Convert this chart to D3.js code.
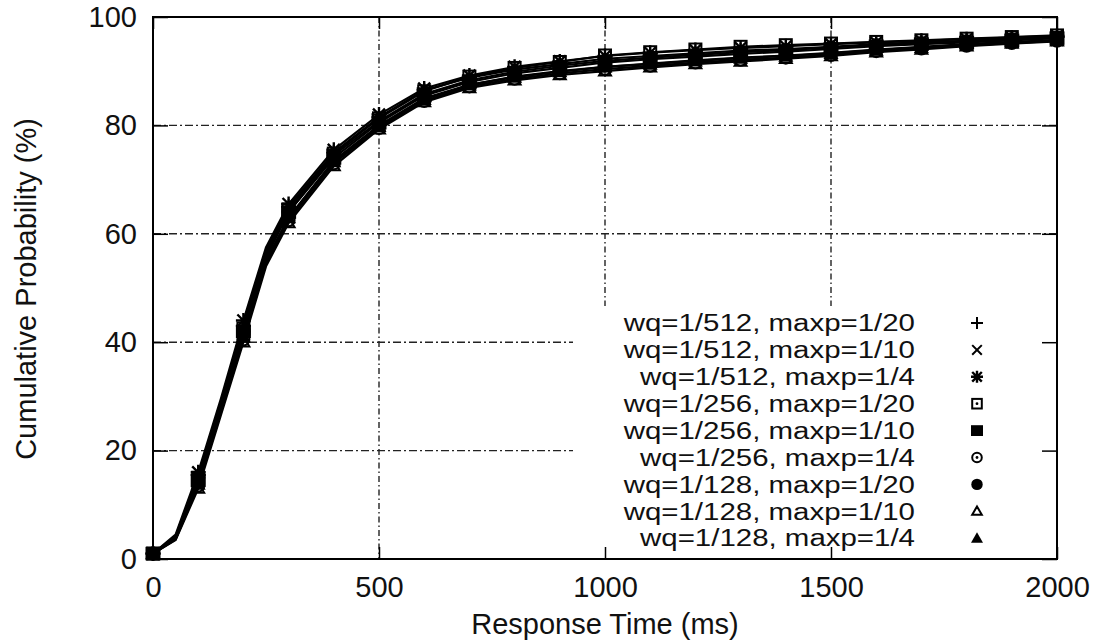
<!DOCTYPE html>
<html>
<head>
<meta charset="UTF-8">
<title>Cumulative Probability vs Response Time</title>
<script src="https://cdnjs.cloudflare.com/ajax/libs/d3/7.8.5/d3.min.js"></script>
<style>
  body { margin: 0; background: #fff; }
  svg text { font-family: "Liberation Sans", Arial, sans-serif; fill: #111; }
</style>
</head>
<body>
<div id="chart"></div>
<script>
// data
const times = [0, 50, 100, 150, 200, 250, 300, 400, 500, 600, 700, 800, 900, 1000, 1100, 1200, 1300, 1400, 1500, 1600, 1700, 1800, 1900, 2000];
const labels = [
  "wq=1/512, maxp=1/20", "wq=1/512, maxp=1/10", "wq=1/512, maxp=1/4",
  "wq=1/256, maxp=1/20", "wq=1/256, maxp=1/10", "wq=1/256, maxp=1/4",
  "wq=1/128, maxp=1/20", "wq=1/128, maxp=1/10", "wq=1/128, maxp=1/4"
];
const s512_20 = [1, 4.2, 15.5, 29, 43, 57, 65, 75, 81.5, 86.5, 88.8, 90.3, 91.3, 92.3, 92.8, 93.3, 93.8, 94.1, 94.5, 95, 95.3, 95.6, 96, 96.3];
const s512_10 = [1, 3.8, 14, 27.5, 41, 55, 63, 73.5, 80, 85, 87.5, 89, 90, 90.8, 91.4, 92, 92.5, 92.9, 93.4, 94, 94.5, 95, 95.4, 95.8];
const s512_4  = [1, 4.5, 16, 29.5, 44, 57.5, 65.5, 75.5, 82, 86.8, 89.2, 90.8, 91.8, 92.8, 93.4, 93.9, 94.3, 94.6, 95, 95.3, 95.6, 95.9, 96.2, 96.5];
const s256_20 = [1, 4, 15, 28.5, 42.5, 56.5, 64.5, 74.8, 81.3, 86.3, 89, 90.6, 91.7, 92.9, 93.5, 94, 94.5, 94.8, 95.1, 95.4, 95.7, 96, 96.3, 96.6];
const s256_10 = [1, 4, 14.5, 28, 42, 55.5, 64, 74, 80.5, 85.5, 88, 89.6, 90.6, 91.6, 92.2, 92.7, 93.2, 93.6, 94.1, 94.6, 95, 95.3, 95.7, 96.1];
const s256_4  = [1, 3.6, 13.5, 27, 40.5, 54.5, 62.5, 73, 79.5, 84.5, 87.2, 88.6, 89.6, 90.4, 91, 91.6, 92.1, 92.5, 93, 93.7, 94.2, 94.7, 95.2, 95.6];
const s128_20 = [1, 4.1, 15, 28.5, 42, 56, 64, 74.5, 80.8, 85.8, 88.3, 89.9, 91, 91.9, 92.5, 93, 93.5, 93.9, 94.4, 94.8, 95.2, 95.5, 95.9, 96.2];
const s128_10 = [1, 3.5, 13, 26.5, 40, 54, 62, 72.5, 79.3, 84.3, 86.9, 88.3, 89.3, 90, 90.7, 91.3, 91.8, 92.3, 92.8, 93.5, 94, 94.6, 95.1, 95.5];
const s128_4  = [1, 3.7, 13.8, 27, 41, 54.8, 63, 73.3, 79.8, 84.8, 87.5, 88.9, 89.9, 90.8, 91.3, 91.9, 92.4, 92.8, 93.3, 93.9, 94.4, 94.9, 95.3, 95.7];
const seriesValues = [s512_20, s512_10, s512_4, s256_20, s256_10, s256_4, s128_20, s128_10, s128_4];
const xTicks = [0, 500, 1000, 1500, 2000];
const yTicks = [0, 20, 40, 60, 80, 100];
const xGrid = [500, 1000, 1500];
const yGrid = [20, 40, 60, 80];

const W = 1093, H = 642;
const margin = {top: 17, right: 36, bottom: 83, left: 153};
const iw = W - margin.left - margin.right;
const ih = H - margin.top - margin.bottom;

const svg = d3.select("#chart").append("svg")
  .attr("width", W).attr("height", H);
const g = svg.append("g").attr("transform", `translate(${margin.left},${margin.top})`);

const x = d3.scaleLinear().domain([0, 2000]).range([0, iw]);
const y = d3.scaleLinear().domain([0, 100]).range([ih, 0]);

// grid
g.selectAll(".gx").data(xGrid).enter().append("line")
  .attr("x1", d => x(d)).attr("x2", d => x(d)).attr("y1", 0).attr("y2", ih)
  .attr("stroke", "#222").attr("stroke-width", 1.4).attr("stroke-dasharray", "6,3,1.5,3");
g.selectAll(".gy").data(yGrid).enter().append("line")
  .attr("x1", 0).attr("x2", iw).attr("y1", d => y(d)).attr("y2", d => y(d))
  .attr("stroke", "#222").attr("stroke-width", 1.4).attr("stroke-dasharray", "8,3,2,3");

// key background hides the grid
const keyX = 573 - margin.left, keyY = 306 - margin.top;
g.append("rect").attr("x", keyX).attr("y", keyY)
  .attr("width", iw - keyX).attr("height", ih - keyY).attr("fill", "#fff");

// marker shapes
function drawMarker(sel, type, r) {
  const k = r * 0.8;
  const st = {stroke: "#000", "stroke-width": 2, fill: "none"};
  const add = (tag, attrs) => {
    const e = sel.append(tag);
    Object.entries(attrs).forEach(([a, v]) => e.attr(a, v));
    return e;
  };
  if (type === 0) add("path", {...st, d: `M${-r},0H${r}M0,${-r}V${r}`});
  if (type === 1) add("path", {...st, d: `M${-k},${-k}L${k},${k}M${-k},${k}L${k},${-k}`});
  if (type === 2) add("path", {...st, "stroke-width": 2.4, d: `M${-r},0H${r}M0,${-r}V${r}M${-k},${-k}L${k},${k}M${-k},${k}L${k},${-k}`});
  if (type === 3) { add("rect", {...st, x: -k, y: -k, width: 2 * k, height: 2 * k}); add("circle", {r: 1.4, fill: "#000"}); }
  if (type === 4) add("rect", {x: -r, y: -r * 0.9, width: 2 * r, height: 1.8 * r, fill: "#000"});
  if (type === 5) { add("circle", {...st, r: k}); add("circle", {r: 1.4, fill: "#000"}); }
  if (type === 6) add("circle", {r: r * 0.95, fill: "#000"});
  if (type === 7) add("path", {...st, d: `M0,${-k}L${k},${k * 0.7}L${-k},${k * 0.7}Z`});
  if (type === 8) add("path", {fill: "#000", d: `M0,${-r}L${r},${r * 0.75}L${-r},${r * 0.75}Z`});
}

// lines
const line = d3.line()
  .x(d => x(d[0])).y(d => y(d[1]));
seriesValues.forEach(vals => {
  g.append("path")
    .datum(times.map((t, i) => [t, vals[i]]))
    .attr("d", line)
    .attr("fill", "none").attr("stroke", "#000").attr("stroke-width", 2.2);
});

// points (every 100 ms)
seriesValues.forEach((vals, si) => {
  times.forEach((t, i) => {
    if (t % 100 !== 0) return;
    const m = g.append("g").attr("transform", `translate(${x(t)},${y(vals[i])})`);
    drawMarker(m, si, 7.5);
  });
});

// key
const key = svg.append("g");
labels.forEach((lab, i) => {
  const ry = 323 + i * 26.9;
  const t = key.append("text").attr("x", 915).attr("y", ry).attr("dy", "0.36em")
    .attr("text-anchor", "end").attr("font-size", 23).text(lab);
  t.attr("textLength", t.node().getComputedTextLength() * 1.28)
    .attr("lengthAdjust", "spacingAndGlyphs");
  drawMarker(key.append("g").attr("transform", `translate(977,${ry})`), i, 6);
});

// axes: ticks inward on all four sides
const axB = g.append("g").attr("transform", `translate(0,${ih})`)
  .call(d3.axisBottom(x).tickValues(xTicks).tickFormat(d3.format("d")).tickSize(-12).tickPadding(17));
const axL = g.append("g")
  .call(d3.axisLeft(y).tickValues(yTicks).tickFormat(d3.format("d")).tickSize(-15).tickPadding(16));
const axT = g.append("g")
  .call(d3.axisTop(x).tickValues(xTicks).tickSize(-12).tickFormat(""));
const axR = g.append("g").attr("transform", `translate(${iw},0)`)
  .call(d3.axisRight(y).tickValues(yTicks).tickSize(-15).tickFormat(""));
[axB, axL, axT, axR].forEach(a => {
  a.select(".domain").remove();
  a.selectAll(".tick line").attr("stroke", "#000").attr("stroke-width", 1.5);
  a.selectAll(".tick text").attr("font-size", 29).attr("fill", "#111")
    .attr("font-family", '"Liberation Sans", Arial, sans-serif');
});

// frame
g.append("rect").attr("width", iw).attr("height", ih)
  .attr("fill", "none").attr("stroke", "#000").attr("stroke-width", 2);

// axis titles
svg.append("text").attr("x", margin.left + iw / 2).attr("y", 634)
  .attr("text-anchor", "middle").attr("font-size", 29).text("Response Time (ms)");
svg.append("text").attr("transform", `translate(36,${289}) rotate(-90)`)
  .attr("text-anchor", "middle").attr("font-size", 29).text("Cumulative Probability (%)");
</script>
</body>
</html>
